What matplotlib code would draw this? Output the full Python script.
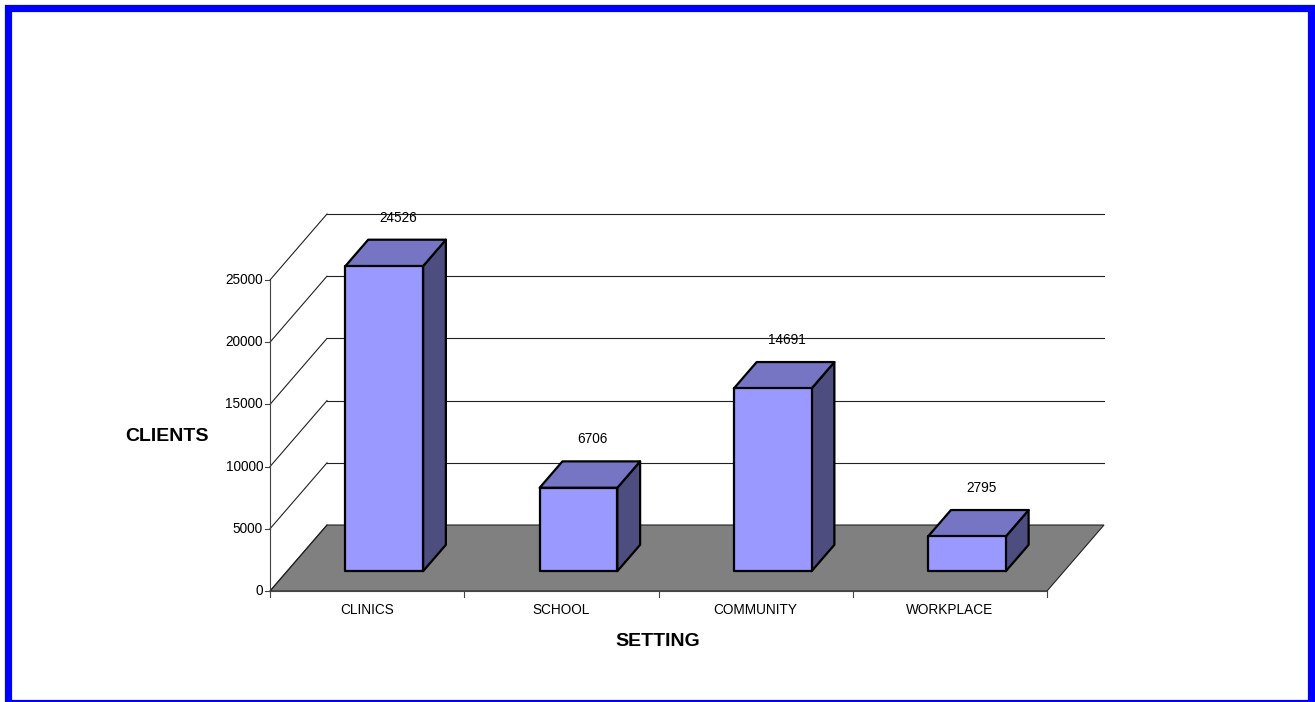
import matplotlib

matplotlib.use('Agg')
import matplotlib.pyplot as plt
from matplotlib.patches import Polygon, Rectangle

# Datos del gráfico
categorias = ['CLINICS', 'SCHOOL', 'COMMUNITY', 'WORKPLACE']
clientes = [24526, 6706, 14691, 2795]
ticks_y = [0, 5000, 10000, 15000, 20000, 25000]

# Geometría en píxeles del plano frontal (escala de la figura)
X0_PX, CAT_PX = 270, 194.25      # origen y ancho de categoría
Y0_PX, PX_PER_UNIT = 591, 62.2 / 5000
DX = 57 / CAT_PX                 # desplazamiento de profundidad en x (categorías)
DY = 66 / PX_PER_UNIT            # desplazamiento de profundidad en y (valores)

plt.rcParams['font.family'] = ['Liberation Sans', 'DejaVu Sans']

fig = plt.figure(figsize=(13.15, 7.02), dpi=100)
ax = fig.add_axes([0, 0, 1, 1])
ax.set_xlim(-X0_PX / CAT_PX, (1315 - X0_PX) / CAT_PX)
ax.set_ylim((Y0_PX - 702) / PX_PER_UNIT, Y0_PX / PX_PER_UNIT)
ax.axis('off')


def proj(x, v, z):
    # proyección oblicua: z=0 plano frontal, z=1 pared del fondo
    return (x + z * DX, v + z * DY)


n = len(categorias)
vmax = ticks_y[-1]
lw_grid = 0.8
fs_small = 9.8
fs_title = 14

# Suelo gris
suelo = [proj(0, 0, 0), proj(n, 0, 0), proj(n, 0, 1), proj(0, 0, 1)]
ax.add_patch(Polygon(suelo, closed=True, facecolor='#808080', edgecolor='#222222',
                     linewidth=lw_grid, zorder=1))

# Líneas de la pared del fondo y pared lateral
for v in ticks_y:
    p0, p1 = proj(0, v, 0), proj(0, v, 1)
    ax.plot([p0[0], p1[0]], [p0[1], p1[1]], color='#222222', lw=lw_grid, zorder=2)
    if v > 0:
        q1 = proj(n, v, 1)
        ax.plot([p1[0], q1[0]], [p1[1], q1[1]], color='#222222', lw=lw_grid, zorder=0.5)

# Eje vertical frontal y marcas
ax.plot([0, 0], [0, vmax], color='#444444', lw=lw_grid, zorder=2)
tick_len_x = 5 / CAT_PX
for v in ticks_y:
    ax.plot([-tick_len_x, 0], [v, v], color='#444444', lw=lw_grid, zorder=2)
    ax.text(-7 / CAT_PX, v, str(v), ha='right', va='center', fontsize=fs_small)

# Eje horizontal y marcas
ax.plot([0, n], [0, 0], color='#444444', lw=lw_grid, zorder=2)
tick_len_y = 6 / PX_PER_UNIT
for i in range(n + 1):
    ax.plot([i, i], [0, -tick_len_y], color='#444444', lw=lw_grid, zorder=2)
for i, cat in enumerate(categorias):
    ax.text(i + 0.5, -19 / PX_PER_UNIT, cat, ha='center', va='center', fontsize=fs_small)

# Barras 3D
ancho, z0, z1 = 0.4, 0.3, 0.7
for i, val in enumerate(clientes):
    x0 = i + 0.5 - ancho / 2
    x1 = x0 + ancho
    frente = [proj(x0, 0, z0), proj(x1, 0, z0), proj(x1, val, z0), proj(x0, val, z0)]
    techo = [proj(x0, val, z0), proj(x1, val, z0), proj(x1, val, z1), proj(x0, val, z1)]
    lado = [proj(x1, 0, z0), proj(x1, 0, z1), proj(x1, val, z1), proj(x1, val, z0)]
    for cara, color in ((lado, '#4d4d80'), (techo, '#7575c4'), (frente, '#9999ff')):
        ax.add_patch(Polygon(cara, closed=True, facecolor=color, edgecolor='black',
                             linewidth=1.6, joinstyle='round', zorder=3 + i))
    ax.annotate(str(val), xy=proj(i + 0.5, val, 0.55), xytext=(0, 23),
                textcoords='offset points', ha='center', va='center', fontsize=fs_small)

# Títulos de ejes
fig.text(167 / 1315, 1 - 436 / 702, 'CLIENTS', ha='center', va='center',
         fontsize=fs_title, fontweight='bold')
fig.text(658 / 1315, 1 - 641 / 702, 'SETTING', ha='center', va='center',
         fontsize=fs_title, fontweight='bold')

# Marco azul
fig.patches.append(Rectangle((7.5 / 1315, -0.5 / 702), 1303.5 / 1315, 695 / 702,
                             transform=fig.transFigure, fill=False,
                             edgecolor='#0000ff', linewidth=5.2, zorder=10))

fig.savefig('out.png', dpi=100)
plt.close(fig)
